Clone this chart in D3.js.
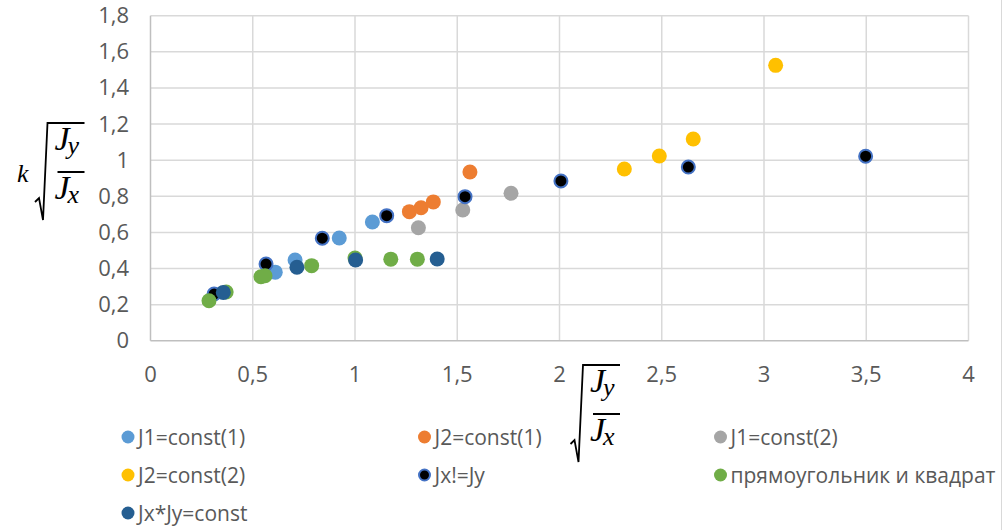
<!DOCTYPE html>
<html>
<head>
<meta charset="utf-8">
<script src="https://cdn.jsdelivr.net/npm/d3@7"></script>
<style>
  body { margin: 0; background: #fff; }
  svg text { font-family: "Open Sans", "Liberation Sans", sans-serif; }
</style>
</head>
<body>
<div id="chart"></div>
<script>
// Series values: [sqrt(Jy/Jx), k*sqrt(Jy/Jx)]
const j1Const1 = [[0.61, 0.38], [0.707, 0.447], [0.923, 0.569], [1.085, 0.658]];
const j2Const1 = [[1.266, 0.715], [1.323, 0.737], [1.383, 0.769], [1.562, 0.935]];
const j1Const2 = [[1.31, 0.626], [1.527, 0.724], [1.763, 0.817]];
const j2Const2 = [[2.317, 0.951], [2.488, 1.023], [2.654, 1.117], [3.057, 1.525]];
const jxNotJy = [[0.311, 0.259], [0.565, 0.425], [0.84, 0.568], [1.155, 0.693],
                 [1.538, 0.798], [2.007, 0.885], [2.63, 0.962], [3.497, 1.022]];
const rectSquare = [[0.286, 0.222], [0.37, 0.27], [0.54, 0.355], [0.56, 0.36],
                    [0.788, 0.416], [1.0, 0.458], [1.175, 0.452], [1.305, 0.452]];
const jxJyConst = [[0.356, 0.268], [0.716, 0.407], [1.003, 0.447], [1.402, 0.453]];

const seriesNames = ["J1=const(1)", "J2=const(1)", "J1=const(2)", "J2=const(2)",
                     "Jx!=Jy", "прямоугольник и квадрат", "Jx*Jy=const"];
const seriesData = [j1Const1, j2Const1, j1Const2, j2Const2, jxNotJy, rectSquare, jxJyConst];
const seriesFill = ["#5B9BD5", "#ED7D31", "#A5A5A5", "#FFC000", "#000000", "#70AD47", "#255E91"];

const xTicks = [0, 0.5, 1, 1.5, 2, 2.5, 3, 3.5, 4];
const yTicks = [0, 0.2, 0.4, 0.6, 0.8, 1, 1.2, 1.4, 1.6, 1.8];

const width = 1004, height = 530;
const plot = { left: 150.5, right: 968.5, top: 15.7, bottom: 340.8 };

const svg = d3.select("#chart").append("svg")
    .attr("width", width)
    .attr("height", height);

const x = d3.scaleLinear().domain([0, 4]).range([plot.left, plot.right]);
const y = d3.scaleLinear().domain([0, 1.8]).range([plot.bottom, plot.top]);
const fmt = d => String(d).replace(".", ",");

// Gridlines
svg.append("g")
    .selectAll("line")
    .data(yTicks.slice(1))
    .enter().append("line")
    .attr("x1", plot.left).attr("x2", plot.right)
    .attr("y1", d => y(d)).attr("y2", d => y(d))
    .attr("stroke", "#d9d9d9").attr("stroke-width", 1.5);

svg.append("g")
    .selectAll("line")
    .data(xTicks.slice(1))
    .enter().append("line")
    .attr("x1", d => x(d)).attr("x2", d => x(d))
    .attr("y1", plot.top).attr("y2", plot.bottom)
    .attr("stroke", "#d9d9d9").attr("stroke-width", 1.5);

// Axis lines
svg.append("line")
    .attr("x1", plot.left).attr("x2", plot.left)
    .attr("y1", plot.top).attr("y2", plot.bottom)
    .attr("stroke", "#bfbfbf").attr("stroke-width", 1.5);
svg.append("line")
    .attr("x1", plot.left).attr("x2", plot.right)
    .attr("y1", plot.bottom).attr("y2", plot.bottom)
    .attr("stroke", "#bfbfbf").attr("stroke-width", 1.5);

// Tick labels
svg.append("g")
    .selectAll("text")
    .data(yTicks)
    .enter().append("text")
    .attr("x", 129)
    .attr("y", d => y(d) + 7.5)
    .attr("text-anchor", "end")
    .style("font-size", "22px")
    .style("fill", "#595959")
    .text(fmt);

svg.append("g")
    .selectAll("text")
    .data(xTicks)
    .enter().append("text")
    .attr("x", d => x(d))
    .attr("y", 382)
    .attr("text-anchor", "middle")
    .style("font-size", "22px")
    .style("fill", "#595959")
    .text(fmt);

// Points
seriesData.forEach((pts, i) => {
    const isOutlined = seriesNames[i] === "Jx!=Jy";
    svg.append("g")
        .selectAll("circle")
        .data(pts)
        .enter().append("circle")
        .attr("cx", d => x(d[0]))
        .attr("cy", d => y(d[1]))
        .attr("r", isOutlined ? 6.5 : 7.5)
        .attr("fill", seriesFill[i])
        .attr("stroke", isOutlined ? "#4472C4" : "none")
        .attr("stroke-width", 2);
});

// Math axis titles: sqrt(Jy / Jx), placed by the top-left of the radical
const serif = "'Liberation Serif', 'DejaVu Serif', serif";
function radicalFraction(ox, oy) {
    const g = svg.append("g").attr("transform", `translate(${ox},${oy})`);
    g.append("path")
        .attr("d", "M-12.5,79 L-8.5,75 L-4.5,97 L0,0 L37,0")
        .attr("fill", "none")
        .attr("stroke", "#000")
        .attr("stroke-width", 1.8);
    g.append("line")
        .attr("x1", 10).attr("x2", 37)
        .attr("y1", 49).attr("y2", 49)
        .attr("stroke", "#000").attr("stroke-width", 2);
    [["y", 27], ["x", 76]].forEach(([sub, base]) => {
        const t = g.append("text").attr("x", 7).attr("y", base)
            .style("font-family", serif).style("font-style", "italic")
            .style("font-size", "34px");
        t.append("tspan").text("J");
        t.append("tspan").attr("dx", -2).attr("dy", 4)
            .style("font-size", "26px").text(sub);
    });
    return g;
}

svg.append("text")
    .attr("x", 17).attr("y", 182)
    .style("font-family", serif)
    .style("font-style", "italic")
    .style("font-size", "26px")
    .text("k");
radicalFraction(47.5, 123);
radicalFraction(583, 365);

// Legend
const legendCols = [128, 424.5, 720.5];
const legendRows = [437, 475, 513];
const legend = svg.selectAll("g.legend")
    .data(seriesNames)
    .enter().append("g")
    .attr("transform", (d, i) => `translate(${legendCols[i % 3]},${legendRows[Math.floor(i / 3)]})`);

legend.append("circle")
    .attr("r", d => d === "Jx!=Jy" ? 5.5 : 6.5)
    .attr("fill", (d, i) => seriesFill[i])
    .attr("stroke", d => d === "Jx!=Jy" ? "#4472C4" : "none")
    .attr("stroke-width", 2);

legend.append("text")
    .attr("x", 10)
    .attr("y", 7.5)
    .style("font-size", "21px")
    .style("fill", "#595959")
    .text(d => d);

// Chart border at the right edge
svg.append("line")
    .attr("x1", 1001.5).attr("x2", 1001.5)
    .attr("y1", 0).attr("y2", height)
    .attr("stroke", "#d9d9d9").attr("stroke-width", 1);
</script>
</body>
</html>
